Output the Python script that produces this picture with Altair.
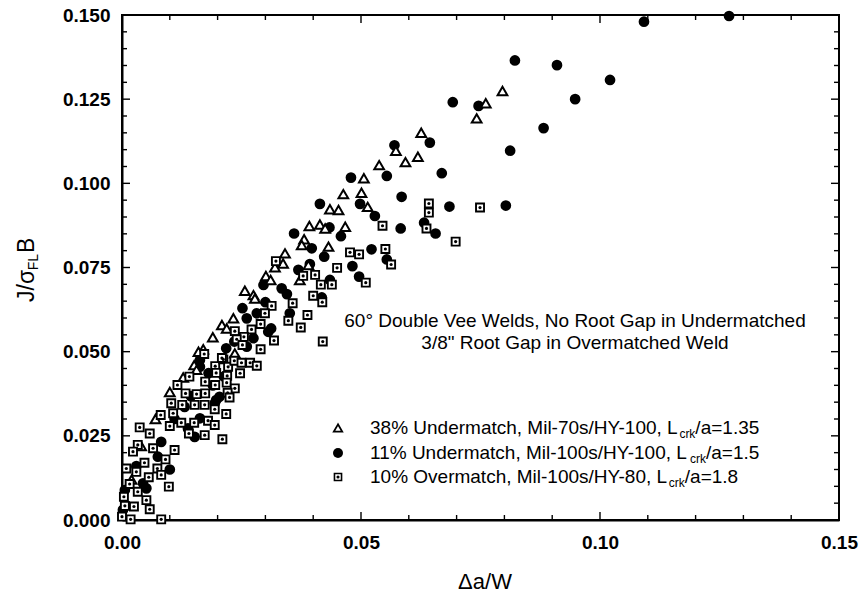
import altair as alt
import pandas as pd

# ---------------- data ----------------
circ_x = [0.1270, 0.1092, 0.0910, 0.1021, 0.0948, 0.0822, 0.0692, 0.0746, 0.0882, 0.0812,
          0.0644, 0.0570, 0.0669, 0.0554, 0.0479, 0.0585, 0.0498, 0.0529, 0.0685, 0.0803,
          0.0632, 0.0583, 0.0656, 0.0414, 0.0360, 0.0434, 0.0458, 0.0397, 0.0423, 0.0522,
          0.0554, 0.0482, 0.0496, 0.0369, 0.0435, 0.0334, 0.0345, 0.0418, 0.0351, 0.0393,
          0.0296, 0.0300, 0.0252, 0.0261, 0.0282, 0.0312, 0.0306, 0.0218, 0.0261, 0.0204,
          0.0144, 0.0163, 0.0181, 0.0163, 0.0213, 0.0197, 0.0131, 0.0163, 0.0138, 0.0152,
          0.0082, 0.0075, 0.0044, 0.0006, 0.0051, 0.0194, 0.0002, 0.0235, 0.0275, 0.0190,
          0.0110, 0.0100, 0.0030]
circ_y = [0.1497, 0.1480, 0.1351, 0.1307, 0.1250, 0.1365, 0.1241, 0.1230, 0.1164, 0.1097,
          0.1121, 0.1113, 0.1030, 0.1022, 0.1017, 0.0960, 0.0939, 0.0903, 0.0931, 0.0934,
          0.0883, 0.0866, 0.0851, 0.0939, 0.0851, 0.0869, 0.0843, 0.0807, 0.0782, 0.0804,
          0.0774, 0.0754, 0.0723, 0.0743, 0.0713, 0.0688, 0.0671, 0.0661, 0.0614, 0.0760,
          0.0698, 0.0647, 0.0629, 0.0599, 0.0614, 0.0569, 0.0559, 0.0510, 0.0515, 0.0366,
          0.0368, 0.0455, 0.0436, 0.0475, 0.0426, 0.0356, 0.0336, 0.0302, 0.0272, 0.0247,
          0.0232, 0.0188, 0.0109, 0.0089, 0.0094, 0.0347, 0.0030, 0.0530, 0.0540, 0.0400,
          0.0300, 0.0150, 0.0160]

tri_x = [0.0796, 0.0761, 0.0742, 0.0626, 0.0573, 0.0619, 0.0593, 0.0538, 0.0506, 0.0501,
         0.0514, 0.0463, 0.0435, 0.0453, 0.0392, 0.0414, 0.0425, 0.0467, 0.0381, 0.0376,
         0.0432, 0.0341, 0.0337, 0.0390, 0.0372, 0.0320, 0.0301, 0.0311, 0.0257, 0.0275,
         0.0278, 0.0233, 0.0209, 0.0219, 0.0190, 0.0170, 0.0160, 0.0236, 0.0151, 0.0156,
         0.0128, 0.0100, 0.0070, 0.0040, 0.0020]
tri_y = [0.1274, 0.1238, 0.1193, 0.1150, 0.1097, 0.1079, 0.1063, 0.1054, 0.1015, 0.0972,
         0.0930, 0.0968, 0.0923, 0.0921, 0.0873, 0.0878, 0.0866, 0.0871, 0.0834, 0.0817,
         0.0812, 0.0792, 0.0762, 0.0757, 0.0713, 0.0751, 0.0725, 0.0713, 0.0681, 0.0668,
         0.0658, 0.0599, 0.0579, 0.0569, 0.0543, 0.0507, 0.0500, 0.0495, 0.0460, 0.0446,
         0.0423, 0.0380, 0.0300, 0.0220, 0.0120]

sq_x = [0.0642, 0.0642, 0.0749, 0.0545, 0.0637, 0.0698, 0.0477, 0.0496, 0.0551, 0.0450,
        0.0563, 0.0379, 0.0404, 0.0416, 0.0439, 0.0510, 0.0400, 0.0419, 0.0357, 0.0388,
        0.0348, 0.0374, 0.0420, 0.0322, 0.0313, 0.0299, 0.0290, 0.0271, 0.0236, 0.0255,
        0.0240, 0.0252, 0.0290, 0.0318, 0.0172, 0.0195, 0.0212, 0.0222, 0.0235, 0.0250,
        0.0268, 0.0282, 0.0247, 0.0220, 0.0197, 0.0174, 0.0195, 0.0219, 0.0236, 0.0221,
        0.0116, 0.0141, 0.0133, 0.0156, 0.0174, 0.0209, 0.0225, 0.0152, 0.0173, 0.0103,
        0.0126, 0.0194, 0.0218, 0.0081, 0.0107, 0.0151, 0.0180, 0.0194, 0.0210, 0.0173,
        0.0140, 0.0124, 0.0100, 0.0058, 0.0037, 0.0033, 0.0023, 0.0065, 0.0110, 0.0091,
        0.0047, 0.0009, 0.0030, 0.0074, 0.0056, 0.0082, 0.0098, 0.0016, 0.0033, 0.0004,
        0.0051, 0.0006, 0.0025, 0.0058, 0.0018, 0.0082, 0.0000]
sq_y = [0.0940, 0.0913, 0.0928, 0.0874, 0.0866, 0.0827, 0.0795, 0.0789, 0.0805, 0.0749,
        0.0759, 0.0725, 0.0728, 0.0699, 0.0699, 0.0705, 0.0666, 0.0647, 0.0644, 0.0609,
        0.0592, 0.0572, 0.0530, 0.0769, 0.0636, 0.0614, 0.0582, 0.0566, 0.0561, 0.0544,
        0.0537, 0.0520, 0.0507, 0.0533, 0.0493, 0.0457, 0.0477, 0.0455, 0.0473, 0.0467,
        0.0467, 0.0458, 0.0436, 0.0428, 0.0437, 0.0411, 0.0401, 0.0408, 0.0391, 0.0378,
        0.0401, 0.0426, 0.0376, 0.0374, 0.0376, 0.0481, 0.0364, 0.0342, 0.0342, 0.0347,
        0.0342, 0.0329, 0.0315, 0.0312, 0.0317, 0.0289, 0.0295, 0.0282, 0.0240, 0.0252,
        0.0257, 0.0289, 0.0279, 0.0257, 0.0275, 0.0223, 0.0203, 0.0213, 0.0208, 0.0180,
        0.0170, 0.0153, 0.0143, 0.0153, 0.0127, 0.0134, 0.0099, 0.0107, 0.0084, 0.0069,
        0.0059, 0.0042, 0.0040, 0.0032, 0.0002, 0.0002, 0.0010]

x_label_values = [0.0, 0.05, 0.10, 0.15]
y_label_values = [0.0, 0.025, 0.05, 0.075, 0.10, 0.125, 0.15]
x_minor_ticks = [0.01, 0.02, 0.03, 0.04, 0.06, 0.07, 0.08, 0.09, 0.11, 0.12, 0.13, 0.14]
x_major_ticks = [0.05, 0.10]
y_minor_ticks = [0.005, 0.01, 0.015, 0.02, 0.03, 0.035, 0.04, 0.045, 0.055, 0.06, 0.065,
                 0.07, 0.08, 0.085, 0.09, 0.095, 0.105, 0.11, 0.115, 0.12, 0.13, 0.135,
                 0.14, 0.145]
y_major_ticks = [0.025, 0.05, 0.075, 0.10, 0.125]

legend_main = ["38% Undermatch, Mil-70s/HY-100, L",
               "11% Undermatch, Mil-100s/HY-100, L",
               "10% Overmatch, Mil-100s/HY-80, L"]
legend_sub = ["crk", "crk", "crk"]
legend_tail = ["/a=1.35", "/a=1.5", "/a=1.8"]
note_lines = ["60\u00b0 Double Vee Welds, No Root Gap in Undermatched",
              "3/8\" Root Gap in Overmatched Weld"]

# ---------------- layout / style ----------------
FONT = "Liberation Sans"
LEFT, TOP, W, H = 122, 15, 717, 505
FS = 19

ARIAL = {' ': 278, '%': 889, ',': 278, '-': 333, '.': 278, '/': 278, '=': 584, '"': 355,
         'H': 722, 'L': 556, 'M': 833, 'O': 778, 'U': 722, 'Y': 667, 'J': 500, 'B': 667,
         'F': 611, 'a': 556, 'c': 500, 'd': 556, 'e': 556, 'h': 556, 'i': 222, 'k': 500,
         'l': 222, 'm': 833, 'n': 556, 'r': 333, 's': 500, 't': 278, 'v': 500,
         '\u03c3': 600}


def tw(s, size):
    return sum(ARIAL.get(c, 556) for c in s) / 1000.0 * size


xs = alt.Scale(domain=[0, 0.15], nice=False, zero=False)
ys = alt.Scale(domain=[0, 0.15], nice=False, zero=False)

common_axis = dict(title=None, grid=False, ticks=False, tickSize=0, domain=True,
                   domainColor="black", domainWidth=2, labelFont=FONT, labelFontSize=FS,
                   labelFontWeight="bold", labelColor="black", labelOverlap=False)
xaxis = alt.Axis(values=x_label_values, format=".2f", labelPadding=13, labelFlush=False,
                 **common_axis)
yaxis = alt.Axis(values=y_label_values, format=".3f", labelPadding=12, **common_axis)


def X(f="x"):
    return alt.X(f"{f}:Q", scale=xs, axis=xaxis)


def Y(f="y"):
    return alt.Y(f"{f}:Q", scale=ys, axis=yaxis)


circ_df = pd.DataFrame({"x": circ_x, "y": circ_y})
tri_df = pd.DataFrame({"x": tri_x, "y": tri_y})
sq_df = pd.DataFrame({"x": sq_x, "y": sq_y})

layers = []

# tick marks (inward, on all four sides)
for vals, ln in ((x_minor_ticks, 5), (x_major_ticks, 8)):
    d = pd.DataFrame({"x": vals})
    layers.append(alt.Chart(d).mark_rule(color="black", strokeWidth=1.4).encode(
        x=X(), y=alt.value(H), y2=alt.value(H - ln)))
    layers.append(alt.Chart(d).mark_rule(color="black", strokeWidth=1.4).encode(
        x=X(), y=alt.value(0), y2=alt.value(ln)))
for vals, ln in ((y_minor_ticks, 5), (y_major_ticks, 8)):
    d = pd.DataFrame({"y": vals})
    layers.append(alt.Chart(d).mark_rule(color="black", strokeWidth=1.4).encode(
        y=Y(), x=alt.value(0), x2=alt.value(ln)))
    layers.append(alt.Chart(d).mark_rule(color="black", strokeWidth=1.4).encode(
        y=Y(), x=alt.value(W), x2=alt.value(W - ln)))

# data marks
CIRC = dict(shape="circle", filled=True, color="black", size=115, opacity=1)
TRI = dict(shape="triangle-up", filled=True, fill="white", stroke="black",
           strokeWidth=2, size=95, opacity=1)
SQ = dict(shape="square", filled=True, fill="white", stroke="black",
          strokeWidth=1.9, size=64, opacity=1)
DOT = dict(shape="circle", filled=True, color="black", size=10, opacity=1)

layers.append(alt.Chart(circ_df).mark_point(**CIRC).encode(x=X(), y=Y()))
layers.append(alt.Chart(tri_df).mark_point(**TRI).encode(x=X(), y=Y()))
layers.append(alt.Chart(sq_df).mark_point(**SQ).encode(x=X(), y=Y()))
layers.append(alt.Chart(sq_df).mark_point(**DOT).encode(x=X(), y=Y()))

one = pd.DataFrame({"k": [0]})

# legend
leg_sym_x = 216
leg_txt_x = 248
leg_rows_y = [413, 438, 462]
LEG_TRI = dict(TRI, size=70, strokeWidth=1.8)
LEG_CIRC = dict(CIRC, size=100)
LEG_SQ = dict(SQ, size=50, strokeWidth=1.6)
sym_styles = [LEG_TRI, LEG_CIRC, LEG_SQ]
for i in range(3):
    yy = leg_rows_y[i]
    layers.append(alt.Chart(one).mark_point(**sym_styles[i]).encode(
        x=alt.value(leg_sym_x), y=alt.value(yy)))
    if i == 2:
        layers.append(alt.Chart(one).mark_point(**DOT).encode(
            x=alt.value(leg_sym_x), y=alt.value(yy)))
    w_main = tw(legend_main[i], FS)
    w_sub = tw(legend_sub[i], 12)
    layers.append(alt.Chart(one).mark_text(text=legend_main[i], font=FONT, fontSize=FS,
                                           align="left", baseline="middle", color="black")
                  .encode(x=alt.value(leg_txt_x), y=alt.value(yy)))
    layers.append(alt.Chart(one).mark_text(text=legend_sub[i], font=FONT, fontSize=12,
                                           align="left", baseline="middle", color="black")
                  .encode(x=alt.value(leg_txt_x + w_main), y=alt.value(yy + 6)))
    layers.append(alt.Chart(one).mark_text(text=legend_tail[i], font=FONT, fontSize=FS,
                                           align="left", baseline="middle", color="black")
                  .encode(x=alt.value(leg_txt_x + w_main + w_sub), y=alt.value(yy)))

# annotation
for txt, yy in zip(note_lines, [306, 328]):
    layers.append(alt.Chart(one).mark_text(text=txt, font=FONT, fontSize=FS,
                                           align="center", baseline="middle", color="black")
                  .encode(x=alt.value(453), y=alt.value(yy)))

# x title
layers.append(alt.Chart(one).mark_text(text="\u0394a/W", font=FONT, fontSize=22,
                                       align="center", baseline="middle", color="black")
              .encode(x=alt.value(363), y=alt.value(567)))

# y title  J/sigma_FL B (rotated)
TS = 23
y0 = 287
bx = -88
w1 = tw("J/\u03c3", TS)
w2 = tw("FL", 14)
layers.append(alt.Chart(one).mark_text(text="J/\u03c3", font=FONT, fontSize=TS, angle=270,
                                       align="left", baseline="alphabetic", color="black")
              .encode(x=alt.value(bx), y=alt.value(y0)))
layers.append(alt.Chart(one).mark_text(text="FL", font=FONT, fontSize=14, angle=270,
                                       align="left", baseline="alphabetic", color="black")
              .encode(x=alt.value(bx + 4), y=alt.value(y0 - w1)))
layers.append(alt.Chart(one).mark_text(text="B", font=FONT, fontSize=TS, angle=270,
                                       align="left", baseline="alphabetic", color="black")
              .encode(x=alt.value(bx), y=alt.value(y0 - w1 - w2 - 1)))

chart = alt.layer(*layers).properties(
    width=W, height=H,
    autosize=alt.AutoSizeParams(type="none"),
    padding={"left": LEFT, "top": TOP, "right": 859 - LEFT - W, "bottom": 597 - TOP - H},
    background="white",
).configure_view(stroke="black", strokeWidth=2)

chart.save("out.html", embed_options={"renderer": "svg", "actions": False})
